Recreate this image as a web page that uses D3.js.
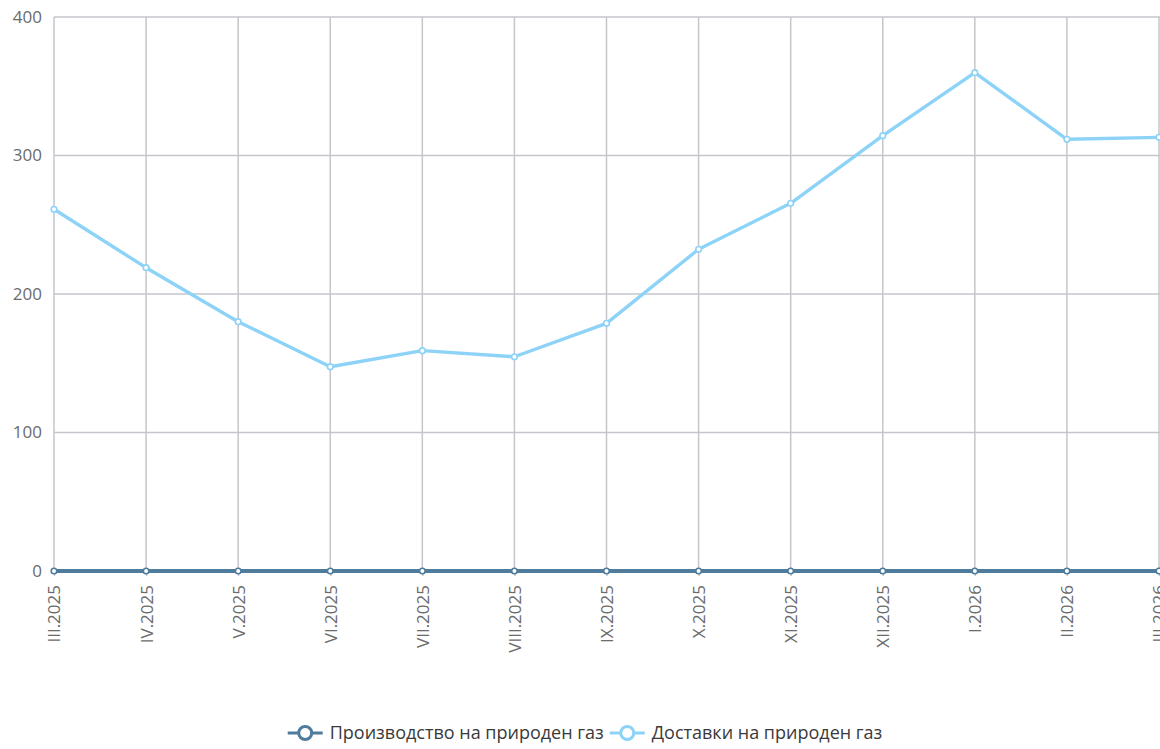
<!DOCTYPE html>
<html><head><meta charset="utf-8">
<script src="https://cdn.jsdelivr.net/npm/d3@7"></script>
<style>
body{margin:0;background:#fff;}
svg{display:block;font-family:"Open Sans",sans-serif;}
</style></head>
<body><svg id="c" width="1160" height="749"></svg>
<script>
const categories = ["III.2025","IV.2025","V.2025","VI.2025","VII.2025","VIII.2025","IX.2025","X.2025","XI.2025","XII.2025","I.2026","II.2026","III.2026"];
const production = [0,0,0,0,0,0,0,0,0,0,0,0,0];
const deliveries = [261.2,219,180,147.5,159.1,154.7,178.8,232.3,265.5,314.3,359.8,311.7,313.1];
const yTicks = [0,100,200,300,400];
const seriesNames = ["Производство на природен газ","Доставки на природен газ"];
const seriesColors = ["#4f7b9c","#8dd3f8"];

const svg = d3.select("#c");
const m = {left:54, right:1159, top:17, bottom:571};
const x = d3.scalePoint().domain(categories).range([m.left, m.right]);
const y = d3.scaleLinear().domain([0,400]).range([m.bottom, m.top]);

const grid = svg.append("g");
grid.selectAll("line.h").data(yTicks).join("line")
  .attr("x1", m.left).attr("x2", 1160).attr("y1", d=>y(d)).attr("y2", d=>y(d))
  .attr("stroke","#c4c6cc").attr("stroke-width",1.5);
grid.selectAll("line.v").data(categories).join("line")
  .attr("x1", d=>x(d)).attr("x2", d=>x(d)).attr("y1", m.top).attr("y2", m.bottom)
  .attr("stroke","#c4c6cc").attr("stroke-width",1.5);

const yAxis = svg.append("g").attr("transform",`translate(${m.left},0)`)
  .call(d3.axisLeft(y).tickValues(yTicks).tickSize(0).tickPadding(12));
yAxis.select(".domain").remove();
yAxis.selectAll("text").attr("fill","#6b6b6b").style("font-size","17px").style("font-family","'Open Sans',sans-serif");

const xAxis = svg.append("g").attr("transform",`translate(0,${m.bottom})`)
  .call(d3.axisBottom(x).tickSize(5));
xAxis.select(".domain").remove();
xAxis.selectAll(".tick line").attr("stroke","#c4c6cc").attr("stroke-width",1.5);
xAxis.selectAll("text")
  .attr("transform","rotate(-90)")
  .attr("text-anchor","end")
  .attr("x",-14).attr("y",0).attr("dy","0.35em")
  .attr("fill","#6b6b6b").style("font-size","17px").style("font-family","'Open Sans',sans-serif");

const line = d3.line().x((d,i)=>x(categories[i])).y(d=>y(d));

function drawSeries(vals, color, w){
  svg.append("path").datum(vals).attr("d", line)
    .attr("fill","none").attr("stroke",color).attr("stroke-width",w).attr("stroke-linejoin","round");
  svg.append("g").selectAll("circle").data(vals).join("circle")
    .attr("cx",(d,i)=>x(categories[i])).attr("cy",d=>y(d)).attr("r",2.8)
    .attr("fill","#fff").attr("stroke",color).attr("stroke-width",1.6);
}
drawSeries(deliveries, seriesColors[1], 3.4);
drawSeries(production, seriesColors[0], 4.2);

// legend
const lg = svg.append("g");
let cx = 0;
seriesNames.forEach((name,i)=>{
  const g = lg.append("g").attr("transform",`translate(${cx},0)`);
  g.append("line").attr("x1",0).attr("x2",35).attr("y1",0).attr("y2",0)
    .attr("stroke",seriesColors[i]).attr("stroke-width",3);
  g.append("circle").attr("cx",17.5).attr("cy",0).attr("r",6.5)
    .attr("fill","#fff").attr("stroke",seriesColors[i]).attr("stroke-width",3);
  const t = g.append("text").attr("x",42).attr("y",0).attr("dy","0.35em")
    .attr("fill","#3a3a3a").style("font-size","18px").text(name);
  cx += 42 + t.node().getComputedTextLength() + 6;
});
const totalW = cx - 6;
lg.attr("transform",`translate(${(1160-totalW)/2 + 5},733)`);
</script></body></html>
